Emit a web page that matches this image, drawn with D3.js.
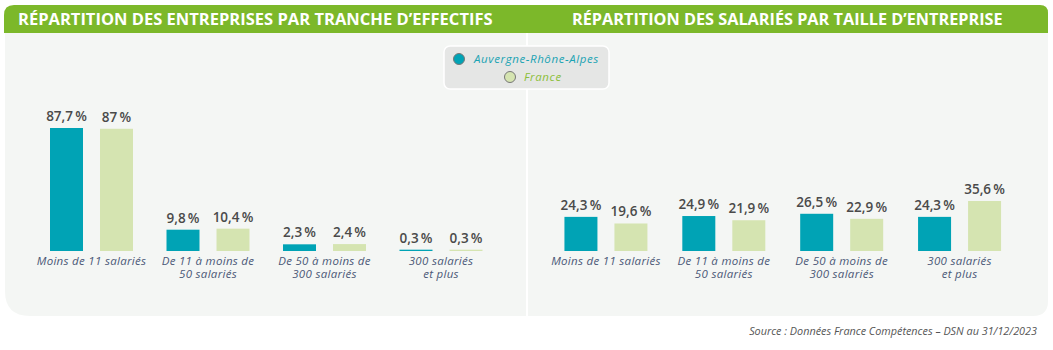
<!DOCTYPE html>
<html><head><meta charset="utf-8">
<script src="https://cdn.jsdelivr.net/npm/d3@7"></script>
<style>html,body{margin:0;padding:0;background:#fff;}svg{display:block;}</style>
</head><body>
<svg id="chart" width="1053" height="350"></svg>
<script>
const titles = ["RÉPARTITION DES ENTREPRISES PAR TRANCHE D’EFFECTIFS", "RÉPARTITION DES SALARIÉS PAR TAILLE D’ENTREPRISE"];
const categories = [["Moins de 11 salariés"], ["De 11 à moins de", "50 salariés"], ["De 50 à moins de", "300 salariés"], ["300 salariés", "et plus"]];
const seriesNames = ["Auvergne-Rhône-Alpes", "France"];
const entreprisesARA = [87.7, 9.8, 2.3, 0.3];
const entreprisesFrance = [87.0, 10.4, 2.4, 0.3];
const salariesARA = [24.3, 24.9, 26.5, 24.3];
const salariesFrance = [19.6, 21.9, 22.9, 35.6];
const sourceText = "Source :  Données France Compétences – DSN au 31/12/2023";

const colors = ["#00a3b5", "#d5e4b1"];
const FONT = "'Open Sans', 'DejaVu Sans', sans-serif";
const svg = d3.select("#chart");

// panel background
svg.append("path").attr("fill", "#f4f6f4")
  .attr("d", "M5,30 H1048 V301 Q1048,316 1033,316 H30 Q5,316 5,291 Z");
// header band
svg.append("path").attr("fill", "#7cb82a")
  .attr("d", "M4,33 V15 Q4,5 14,5 H1040 Q1048,5 1048,13 V33 Z");
// divider
svg.append("rect").attr("x", 526).attr("y", 33).attr("width", 2).attr("height", 283).attr("fill", "#ffffff");

function fitText(sel, targetW) {
  const w = sel.node().getComputedTextLength();
  const fs = parseFloat(sel.attr("font-size"));
  sel.attr("font-size", fs * targetW / w);
}
const t1 = svg.append("text").attr("x", 18).attr("y", 25).text(titles[0])
  .attr("font-family", FONT).attr("font-weight", 700).attr("font-size", 15).attr("fill", "#fff");
fitText(t1, 475);
const t2 = svg.append("text").attr("x", 572).attr("y", 25).text(titles[1])
  .attr("font-family", FONT).attr("font-weight", 700).attr("font-size", 15).attr("fill", "#fff");
fitText(t2, 431);

// legend
const lg = svg.append("g");
lg.append("rect").attr("x", 444).attr("y", 46).attr("width", 165).attr("height", 43).attr("rx", 6)
  .attr("fill", "#e5e6e5").attr("stroke", "#ffffff").attr("stroke-width", 1.5);
const legendPos = [[459, 59, 474], [510, 77, 524]];
const legendTextColors = ["#1aa3b3", "#8cbf3a"];
seriesNames.forEach((n, i) => {
  lg.append("circle").attr("cx", legendPos[i][0]).attr("cy", legendPos[i][1]).attr("r", 5.5)
    .attr("fill", colors[i]).attr("stroke", "#777").attr("stroke-width", 1);
  lg.append("text").attr("x", legendPos[i][2]).attr("y", legendPos[i][1] + 4).text(n)
    .attr("font-family", FONT).attr("font-style", "italic").attr("font-size", 11.5)
    .attr("letter-spacing", 0.6)
    .attr("fill", legendTextColors[i]);
});

const fmt = v => d3.format(".1f")(v).replace(".", ",").replace(",0", "") + "\u2009%";

function drawPanel(x0, x1, ara, fra, yScale) {
  const g = svg.append("g");
  const xg = d3.scaleBand().domain(d3.range(categories.length)).range([x0, x1]).padding(0);
  const xs = d3.scaleBand().domain([0, 1]).range([0, 83]).paddingInner(0.34).paddingOuter(0);
  const data = [];
  categories.forEach((c, i) => {
    [ara[i], fra[i]].forEach((v, s) => data.push({ i, s, v }));
  });
  const bx = d => xg(d.i) + xg.bandwidth() / 2 - 41.5 + xs(d.s);
  g.selectAll("rect.bar").data(data).join("rect").attr("class", "bar")
    .attr("x", bx).attr("width", xs.bandwidth())
    .attr("y", d => yScale(d.v)).attr("height", d => yScale(0) - yScale(d.v))
    .attr("fill", d => colors[d.s]);
  g.selectAll("text.val").data(data).join("text").attr("class", "val")
    .attr("x", d => bx(d) + xs.bandwidth() / 2).attr("y", d => yScale(d.v) - 7)
    .attr("text-anchor", "middle").attr("font-family", FONT).attr("font-weight", 600)
    .attr("font-size", 13.5).attr("fill", "#4a4a4a").text(d => fmt(d.v));
  categories.forEach((c, i) => {
    c.forEach((line, k) => {
      g.append("text").attr("x", xg(i) + xg.bandwidth() / 2).attr("y", 265 + k * 13)
        .attr("text-anchor", "middle").attr("font-family", FONT).attr("font-style", "italic")
        .attr("font-size", 11.5).attr("letter-spacing", 0.3).attr("fill", "#4b5877").text(line);
    });
  });
}

const yLeft = d3.scalePow().exponent(0.8).domain([0, 87.7]).range([251, 128]);
const yRight = d3.scaleLinear().domain([0, 35.6]).range([251, 201]);
drawPanel(33.25, 499.25, entreprisesARA, entreprisesFrance, yLeft);
drawPanel(547, 1018.5, salariesARA, salariesFrance, yRight);

const src = svg.append("text").attr("x", 1037).attr("y", 335).attr("text-anchor", "end")
  .attr("font-family", FONT).attr("font-style", "italic").attr("font-size", 9.5)
  .attr("fill", "#555").text(sourceText);
fitText(src, 288);
</script>
</body></html>
